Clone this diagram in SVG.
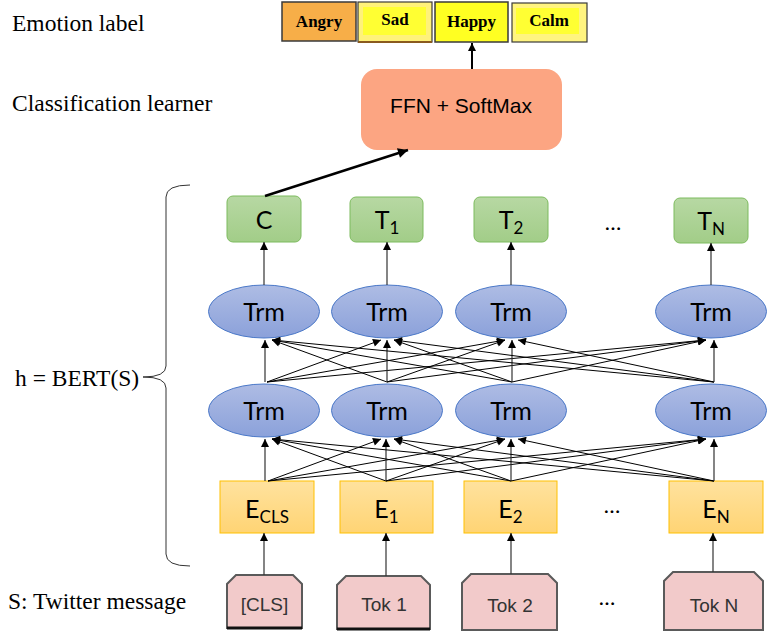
<svg xmlns="http://www.w3.org/2000/svg" width="776" height="633" viewBox="0 0 776 633">
<defs>
<linearGradient id="gBlue" x1="0" y1="0" x2="0" y2="1"><stop offset="0" stop-color="#AEBCE4"/><stop offset="1" stop-color="#8BA1DA"/></linearGradient>
<linearGradient id="gGreen" x1="0" y1="0" x2="0" y2="1"><stop offset="0" stop-color="#B7D8A3"/><stop offset="1" stop-color="#A2CD88"/></linearGradient>
<linearGradient id="gYel" x1="0" y1="0" x2="0" y2="1"><stop offset="0" stop-color="#FFE29E"/><stop offset="1" stop-color="#FFD474"/></linearGradient>
<marker id="ah" viewBox="0 0 10 10" refX="10" refY="5" markerWidth="9" markerHeight="8" markerUnits="userSpaceOnUse" orient="auto"><path d="M0,0 L10,5 L0,10 z" fill="#000"/></marker>
<marker id="ahb" viewBox="0 0 10 10" refX="10" refY="5" markerWidth="13" markerHeight="10" markerUnits="userSpaceOnUse" orient="auto"><path d="M0,0 L10,5 L0,10 z" fill="#000"/></marker>
</defs>
<style>
.side{font-family:"Liberation Serif","Times New Roman",serif;font-size:23.5px;fill:#000}
.lab{font-family:"Liberation Serif","Times New Roman",serif;font-size:17px;font-weight:bold;fill:#000;text-anchor:middle}
.cal{font-family:Lato,"Open Sans",sans-serif;font-size:25px;fill:#000;text-anchor:middle}
.sub{font-size:17px}
.trm{fill:url(#gBlue);stroke:#4A78C8;stroke-width:1}
.grn{fill:url(#gGreen);stroke:#7DBB5E;stroke-width:1}
.emb{fill:url(#gYel);stroke:#FFC000;stroke-width:1}
.tok{fill:#F2CACA;stroke:#5A5A5A;stroke-width:2}
.tokb{stroke:#111;stroke-width:3}
.toktx{font-family:"Liberation Sans",Arial,sans-serif;font-size:19px;fill:#333;text-anchor:middle}
.ln{stroke:#000;stroke-width:1;fill:none;marker-end:url(#ah)}
.vl{stroke:#333;stroke-width:1.2;fill:none;marker-end:url(#ah)}
.dots{font-family:Lato,"Open Sans",sans-serif;font-size:22px;fill:#000;text-anchor:middle}
</style>

<g id="side-labels">
<text class="side" x="12" y="31">Emotion label</text>
<text class="side" x="12" y="111">Classification learner</text>
<text class="side" x="15" y="386">h = BERT(S)</text>
<text class="side" x="8" y="609">S: Twitter message</text>
<path d="M190,185 Q166,185 166,197 L166,366 Q166,377 143,377 Q166,377 166,388 L166,554 Q166,566 190,566" fill="none" stroke="#333" stroke-width="1"/>
</g>

<g id="label-angry">
<rect x="282" y="2" width="74" height="39" fill="#F7AE48" stroke="#3A3A3A" stroke-width="1.5"/>
<text class="lab" x="319" y="27">Angry</text>
</g>
<g id="label-sad">
<rect x="358" y="2" width="74" height="40" fill="#FFF27A" stroke="#3A3A3A" stroke-width="1.2"/>
<rect x="363" y="7" width="63" height="28" fill="#FFFF33"/>
<line x1="358" y1="42" x2="432" y2="42" stroke="#8A5A1E" stroke-width="2"/>
<text class="lab" x="395" y="25">Sad</text>
</g>
<g id="label-happy">
<rect x="435" y="2" width="73" height="40" fill="#FFFF22" stroke="#3A3A3A" stroke-width="1.5"/>
<text class="lab" x="471.5" y="27">Happy</text>
</g>
<g id="label-calm">
<rect x="512" y="3" width="75" height="39" fill="#FFF480" stroke="#3A3A3A" stroke-width="1.2"/>
<rect x="516" y="8" width="63" height="26" fill="#FFFF33"/>
<text class="lab" x="549" y="26">Calm</text>
</g>

<g id="ffn">
<rect x="361" y="69" width="201" height="81" rx="16" fill="#FCA582"/>
<text x="461" y="113" font-family="Liberation Sans,Arial,sans-serif" font-size="21" text-anchor="middle" fill="#000">FFN + SoftMax</text>
</g>

<g id="out-c"><rect class="grn" x="227" y="196" width="74" height="46" rx="6"/><text class="cal" x="264" y="229">C</text></g>
<g id="out-t1"><rect class="grn" x="350" y="197" width="73" height="45" rx="6"/><text class="cal" x="387" y="229">T<tspan class="sub" dy="5">1</tspan></text></g>
<g id="out-t2"><rect class="grn" x="474" y="197" width="74" height="45" rx="6"/><text class="cal" x="511" y="229">T<tspan class="sub" dy="5">2</tspan></text></g>
<g id="out-tn"><rect class="grn" x="674" y="198" width="74" height="45" rx="6"/><text class="cal" x="711" y="230">T<tspan class="sub" dy="5">N</tspan></text></g>
<text class="dots" x="613" y="230">…</text>

<g id="trm-top-1"><ellipse class="trm" cx="264" cy="311.5" rx="55.5" ry="26.5"/><text class="cal" x="264" y="321">Trm</text></g>
<g id="trm-top-2"><ellipse class="trm" cx="387" cy="311.5" rx="55.5" ry="26.5"/><text class="cal" x="387" y="321">Trm</text></g>
<g id="trm-top-3"><ellipse class="trm" cx="511" cy="311.5" rx="55.5" ry="26.5"/><text class="cal" x="511" y="321">Trm</text></g>
<g id="trm-top-4"><ellipse class="trm" cx="711" cy="311.5" rx="55.5" ry="26.5"/><text class="cal" x="711" y="321">Trm</text></g>

<g id="trm-bot-1"><ellipse class="trm" cx="264" cy="410.5" rx="55.5" ry="26.5"/><text class="cal" x="264" y="420">Trm</text></g>
<g id="trm-bot-2"><ellipse class="trm" cx="387" cy="410.5" rx="55.5" ry="26.5"/><text class="cal" x="387" y="420">Trm</text></g>
<g id="trm-bot-3"><ellipse class="trm" cx="511" cy="410.5" rx="55.5" ry="26.5"/><text class="cal" x="511" y="420">Trm</text></g>
<g id="trm-bot-4"><ellipse class="trm" cx="711" cy="410.5" rx="55.5" ry="26.5"/><text class="cal" x="711" y="420">Trm</text></g>

<g id="emb-cls"><rect class="emb" x="220" y="481" width="94" height="52"/><text class="cal" x="267" y="518">E<tspan class="sub" dy="5">CLS</tspan></text></g>
<g id="emb-1"><rect class="emb" x="340" y="481" width="93" height="52"/><text class="cal" x="386.5" y="518">E<tspan class="sub" dy="5">1</tspan></text></g>
<g id="emb-2"><rect class="emb" x="464" y="481" width="93" height="52"/><text class="cal" x="510.5" y="518">E<tspan class="sub" dy="5">2</tspan></text></g>
<g id="emb-n"><rect class="emb" x="669" y="481" width="94" height="52"/><text class="cal" x="716" y="518">E<tspan class="sub" dy="5">N</tspan></text></g>
<text class="dots" x="612" y="513">…</text>

<g id="tok-cls"><path class="tok" d="M227,628 L227,584 L236,575 L293,575 L302,584 L302,628 Z"/><line class="tokb" x1="227" y1="628" x2="302" y2="628"/><text class="toktx" x="264.5" y="611" font-size="15">[CLS]</text></g>
<g id="tok-1"><path class="tok" d="M337,629 L337,585 L346,576 L421,576 L430,585 L430,629 Z"/><line class="tokb" x1="337" y1="629" x2="430" y2="629"/><text class="toktx" x="384" y="611">Tok 1</text></g>
<g id="tok-2"><path class="tok" d="M462,630 L462,583 L471,574 L548,574 L557,583 L557,630 Z"/><text class="toktx" x="510" y="612">Tok 2</text></g>
<g id="tok-n"><path class="tok" d="M664,630 L664,581 L673,572 L754,572 L763,581 L763,630 Z"/><text class="toktx" x="714" y="612">Tok N</text></g>
<text class="dots" x="607" y="605">…</text>

<g id="connectors">
<line class="ln" x1="472" y1="69" x2="472" y2="43" style="stroke-width:2"/>
<line x1="265" y1="196" x2="408" y2="150" stroke="#000" stroke-width="2.5" marker-end="url(#ahb)"/>

<line class="vl" x1="264" y1="285" x2="264" y2="242"/>
<line class="vl" x1="387" y1="285" x2="387" y2="242"/>
<line class="vl" x1="511" y1="285" x2="511" y2="242"/>
<line class="vl" x1="711" y1="285" x2="711" y2="243"/>

<line class="vl" x1="265" y1="382" x2="265" y2="340"/>
<line class="ln" x1="267" y1="382" x2="381" y2="340"/>
<line class="ln" x1="267" y1="382" x2="505" y2="340"/>
<line class="ln" x1="267" y1="382" x2="706" y2="340"/>
<line class="ln" x1="387" y1="382" x2="272" y2="340"/>
<line class="vl" x1="387" y1="382" x2="387" y2="340"/>
<line class="ln" x1="387" y1="382" x2="505" y2="340"/>
<line class="ln" x1="387" y1="382" x2="706" y2="340"/>
<line class="ln" x1="512" y1="382" x2="272" y2="340"/>
<line class="ln" x1="512" y1="382" x2="394" y2="340"/>
<line class="vl" x1="512" y1="382" x2="512" y2="340"/>
<line class="ln" x1="512" y1="382" x2="706" y2="340"/>
<line class="ln" x1="714" y1="382" x2="272" y2="340"/>
<line class="ln" x1="714" y1="382" x2="394" y2="340"/>
<line class="ln" x1="714" y1="382" x2="518" y2="340"/>
<line class="vl" x1="714" y1="382" x2="714" y2="340"/>

<line class="vl" x1="265" y1="481" x2="265" y2="439"/>
<line class="ln" x1="268" y1="481" x2="381" y2="439"/>
<line class="ln" x1="268" y1="481" x2="505" y2="439"/>
<line class="ln" x1="268" y1="481" x2="706" y2="439"/>
<line class="ln" x1="386" y1="481" x2="272" y2="439"/>
<line class="vl" x1="386" y1="481" x2="386" y2="439"/>
<line class="ln" x1="386" y1="481" x2="505" y2="439"/>
<line class="ln" x1="386" y1="481" x2="706" y2="439"/>
<line class="ln" x1="511" y1="481" x2="272" y2="439"/>
<line class="ln" x1="511" y1="481" x2="394" y2="439"/>
<line class="vl" x1="511" y1="481" x2="511" y2="439"/>
<line class="ln" x1="511" y1="481" x2="706" y2="439"/>
<line class="ln" x1="714" y1="481" x2="272" y2="439"/>
<line class="ln" x1="714" y1="481" x2="394" y2="439"/>
<line class="ln" x1="714" y1="481" x2="518" y2="439"/>
<line class="vl" x1="714" y1="481" x2="714" y2="439"/>

<line class="vl" x1="264" y1="575" x2="264" y2="533"/>
<line class="vl" x1="386" y1="576" x2="386" y2="533"/>
<line class="vl" x1="511" y1="574" x2="511" y2="533"/>
<line class="vl" x1="713" y1="572" x2="713" y2="533"/>
</g>
</svg>
